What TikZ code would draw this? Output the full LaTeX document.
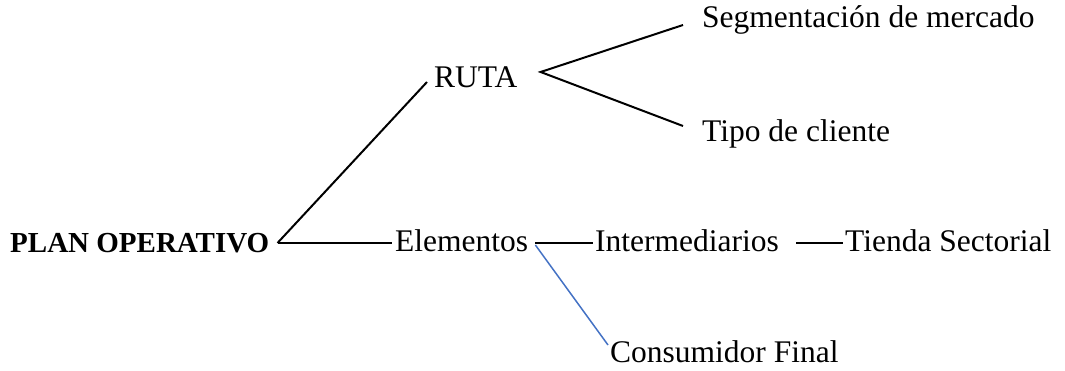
\documentclass[tikz,border=0pt]{standalone}
\usepackage{fontspec}
\setmainfont{Liberation Serif}
\definecolor{linkblue}{RGB}{68,114,196}
\begin{document}
\begin{tikzpicture}[x=1pt,y=-1pt,
  lbl/.style={anchor=base west, inner sep=0pt, font=\fontsize{31.5}{36}\selectfont},
  root/.style={anchor=base west, inner sep=0pt, font=\fontsize{29}{34}\selectfont\bfseries},
  link/.style={line width=2pt, black},
  bluelink/.style={line width=1.5pt, draw=linkblue}]
\useasboundingbox (0,0) rectangle (1065,371);

% labels
\node[root] (plan)   at (10,253)  {PLAN OPERATIVO};
\node[lbl]  (ruta)   at (434,88)  {RUTA};
\node[lbl]  (seg)    at (702,28)  {Segmentación de mercado};
\node[lbl]  (tipo)   at (702,142) {Tipo de cliente};
\node[lbl]  (elem)   at (395,252) {Elementos};
\node[lbl]  (inter)  at (595,252) {Intermediarios};
\node[lbl]  (tienda) at (845,252) {Tienda Sectorial};
\node[lbl]  (cons)   at (610,362) {Consumidor Final};

% branches
\draw[link] ([xshift=8pt,yshift=10pt]plan.base east) -- ([xshift=-7pt,yshift=6pt]ruta.base west);
\draw[link] ([xshift=9pt,yshift=10pt]plan.base east) -- ([xshift=-3pt,yshift=9pt]elem.base west);
\draw[link] ([xshift=-19pt,yshift=3pt]seg.base west) -- ([xshift=23pt,yshift=16pt]ruta.base east)
            -- ([xshift=-19pt,yshift=16pt]tipo.base west);
\draw[link] ([xshift=7pt,yshift=9pt]elem.base east) -- ([xshift=-2pt,yshift=9pt]inter.base west);
\draw[link] ([xshift=17pt,yshift=9pt]inter.base east) -- ([xshift=-2pt,yshift=9pt]tienda.base west);
\draw[bluelink] ([xshift=7pt,yshift=7pt]elem.base east) -- ([xshift=-2pt,yshift=17pt]cons.base west);
\end{tikzpicture}
\end{document}
